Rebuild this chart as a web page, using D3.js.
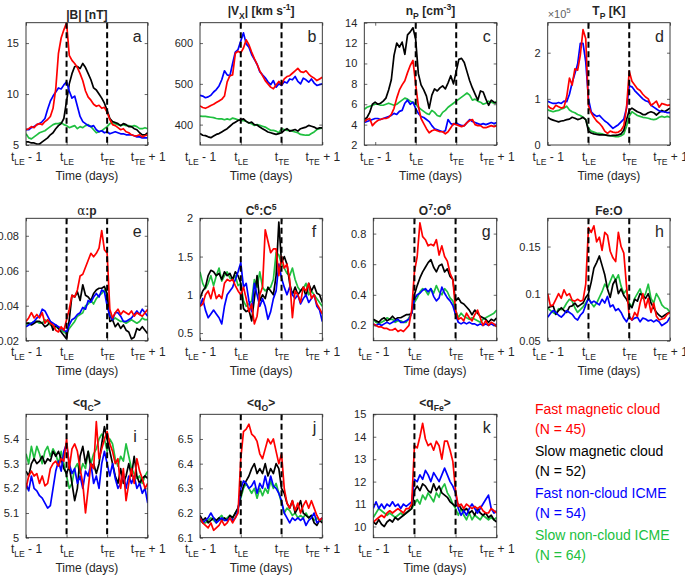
<!DOCTYPE html>
<html>
<head>
<meta charset="utf-8">
<script src="https://cdn.jsdelivr.net/npm/d3@7"></script>
<style>
  body { margin: 0; background: #fff; }
  text { font-family: "Liberation Sans", Arial, Helvetica, sans-serif; fill: #262626; }
</style>
</head>
<body>
<div id="chart"></div>
<script>
// series (fmc = fast magnetic cloud, smc = slow magnetic cloud, fnc = fast non-cloud, snc = slow non-cloud)
var seriesNames = ["Fast magnetic cloud", "Slow magnetic cloud", "Fast non-cloud ICME", "Slow non-cloud ICME"];
var seriesN = [45, 52, 54, 64];
var seriesColors = ["#ff0000", "#000000", "#0000ff", "#20c040"];
var drawOrder = [3, 1, 2, 0];

// x axis: superposed epoch, tLE - 1 .. tTE + 1
var epochs = [1, 2];
var xTickVals = [0, 1, 2, 3];
var xTickSub = ["LE", "LE", "TE", "TE"];
var xTickSuffix = [" - 1", "", "", " + 1"];

// a  |B| [nT]
var B_fmc = [6.5,6.6,6.8,6.7,7.0,7.1,7.0,7.3,7.5,7.8,8.6,10.5,14.0,15.5,16.3,17.0,13.8,13.3,13.0,12.6,12.0,11.3,10.3,9.7,9.4,9.0,8.8,8.9,8.6,8.7,8.2,7.5,7.0,6.9,6.7,6.5,6.6,6.3,6.2,6.0,5.9,5.9,6.0,5.8,5.9,6.0];
var B_smc = [5.3,5.3,5.2,5.2,5.1,5.1,5.3,5.5,5.7,6.0,6.2,6.6,6.9,7.1,7.6,9.3,11.0,12.0,12.7,12.7,12.5,13.0,12.6,12.0,11.4,10.6,10.4,10.0,9.6,9.1,8.4,7.6,7.3,7.2,7.1,6.9,7.1,7.0,6.8,6.8,6.6,6.5,6.2,6.0,6.0,6.2];
var B_fnc = [6.5,6.5,6.7,6.8,7.0,7.1,7.3,7.6,8.5,9.3,9.8,10.2,10.6,10.5,10.9,11.2,10.3,9.6,9.8,8.8,7.8,7.3,7.1,6.9,6.8,6.9,6.5,6.3,6.4,6.2,6.3,6.1,6.2,6.3,6.2,6.1,6.1,6.0,6.0,6.0,5.9,5.8,5.8,5.7,5.7,5.7];
var B_snc = [6.1,5.7,5.6,5.8,6.0,6.2,6.3,6.4,6.6,6.8,7.0,7.1,7.1,7.2,7.0,6.9,6.7,6.8,6.9,6.6,6.8,6.7,6.9,7.0,6.8,6.5,6.2,6.3,6.4,6.6,6.8,7.1,7.2,7.1,7.0,6.9,7.0,6.9,6.9,6.8,6.9,6.8,6.6,6.6,6.7,6.6];

// b  |Vx| [km/s]
var V_fmc = [446,442,440,443,447,450,454,458,462,470,505,520,522,575,580,576,588,608,596,578,562,548,532,520,508,500,492,488,497,506,498,512,518,520,526,532,538,530,528,532,524,518,514,508,512,516];
var V_smc = [378,374,373,370,368,372,376,378,382,386,390,396,402,406,410,412,414,408,404,406,400,399,394,390,386,382,380,378,376,378,380,386,390,384,386,388,384,390,392,394,398,396,394,390,392,392];
var V_fnc = [472,470,466,468,472,480,486,495,510,532,522,520,550,578,584,605,625,598,590,572,560,548,530,522,515,505,498,508,492,500,496,505,502,512,510,518,506,500,514,510,504,512,502,496,498,500];
var V_snc = [421,420,420,419,418,417,415,414,414,412,414,412,416,414,412,410,410,408,404,402,398,400,398,396,394,390,386,386,384,380,390,388,386,386,384,382,380,376,375,374,374,378,382,388,390,392];

// c  nP [cm-3] (starts a little before tLE - 1)
var Np_fmc = [4.3,4.5,4.6,3.9,4.2,4.4,4.5,4.6,4.6,4.7,5.0,5.6,6.6,7.4,7.9,8.3,9.1,9.8,10.3,8.0,5.8,4.6,4.1,3.6,3.2,3.4,3.5,3.4,3.3,3.3,3.1,3.3,3.7,4.1,4.0,3.9,3.8,3.9,4.2,4.4,4.5,4.0,3.9,3.9,3.7,3.7,3.8,3.9,3.8,3.9];
var Np_smc = [4.5,4.7,5.2,6.0,6.2,6.0,6.1,6.3,6.6,7.4,8.4,10.8,12.0,11.6,12.1,10.9,12.8,13.1,13.5,12.4,9.0,7.9,7.4,6.8,5.6,6.9,7.5,7.3,7.6,7.8,7.5,8.1,8.8,8.0,9.2,10.4,10.5,10.1,9.2,8.3,7.6,7.0,6.4,7.3,7.2,6.5,5.9,6.4,6.2,6.1];
var Np_fnc = [4.2,4.3,4.4,4.5,4.6,4.6,4.5,4.6,4.7,4.8,4.9,5.1,5.0,5.3,5.4,6.1,6.4,6.0,6.2,5.6,5.1,4.8,4.7,4.5,4.3,3.9,3.6,3.5,3.4,3.3,3.4,4.5,4.1,4.0,4.2,4.0,3.9,3.9,4.2,4.5,4.3,4.2,4.1,4.0,4.1,4.0,4.1,4.2,4.1,4.2];
var Np_snc = [5.5,5.7,5.8,5.9,6.0,6.0,5.9,5.9,6.0,6.1,6.0,5.9,6.0,6.2,6.4,6.6,6.5,6.3,6.2,6.0,5.7,5.5,5.3,5.1,5.0,5.4,5.2,4.9,4.8,5.2,5.4,5.7,5.9,6.1,6.3,6.5,6.7,6.9,7.1,6.9,6.4,6.5,6.3,6.2,6.0,6.1,6.3,6.2,6.1,6.3];

// d  TP [10^5 K]
var Tp_fmc = [0.85,0.80,0.78,0.86,0.83,0.80,0.82,1.05,1.45,1.30,1.65,1.62,1.95,2.50,2.30,0.85,0.70,0.60,0.52,0.47,0.40,0.30,0.25,0.30,0.28,0.27,0.28,0.32,0.42,0.80,1.60,1.38,1.30,1.22,1.18,1.10,1.04,1.00,0.86,0.90,0.95,0.82,0.90,0.88,0.86,0.87];
var Tp_smc = [0.60,0.56,0.54,0.52,0.50,0.52,0.53,0.55,0.56,0.60,0.58,0.55,0.57,0.60,0.55,0.30,0.26,0.24,0.23,0.22,0.22,0.22,0.21,0.20,0.21,0.21,0.22,0.24,0.32,0.55,0.75,0.80,0.76,0.72,0.70,0.66,0.66,0.70,0.72,0.70,0.65,0.70,0.75,0.72,0.76,0.80];
var Tp_fnc = [0.95,0.92,0.90,0.90,0.92,0.90,0.95,0.94,1.10,1.35,1.55,1.75,2.20,2.20,1.80,1.00,0.72,0.66,0.62,0.64,0.58,0.52,0.48,0.42,0.36,0.40,0.44,0.50,0.56,0.80,1.28,1.26,1.18,1.12,1.06,1.00,0.96,0.94,0.86,0.82,0.78,0.74,0.72,0.72,0.70,0.70];
var Tp_snc = [0.76,0.74,0.72,0.74,0.75,0.78,0.80,0.84,0.76,0.72,0.70,0.66,0.64,0.60,0.55,0.36,0.30,0.28,0.26,0.25,0.24,0.22,0.21,0.20,0.19,0.18,0.18,0.20,0.24,0.40,0.62,0.72,0.68,0.64,0.62,0.60,0.59,0.58,0.56,0.55,0.56,0.60,0.62,0.60,0.62,0.60];

// e  alpha:p
var Ap_fmc = [0.031,0.033,0.036,0.033,0.035,0.033,0.036,0.030,0.032,0.030,0.029,0.026,0.025,0.028,0.026,0.032,0.038,0.046,0.045,0.049,0.057,0.058,0.062,0.066,0.070,0.068,0.070,0.073,0.083,0.072,0.070,0.038,0.033,0.036,0.038,0.035,0.037,0.036,0.035,0.037,0.034,0.036,0.035,0.034,0.036,0.038];
var Ap_smc = [0.030,0.030,0.029,0.030,0.031,0.031,0.030,0.028,0.029,0.031,0.026,0.029,0.027,0.025,0.023,0.021,0.032,0.046,0.045,0.048,0.043,0.052,0.046,0.045,0.043,0.047,0.049,0.050,0.050,0.051,0.047,0.031,0.032,0.028,0.030,0.027,0.029,0.026,0.025,0.021,0.022,0.027,0.026,0.028,0.026,0.024];
var Ap_fnc = [0.028,0.029,0.030,0.031,0.033,0.034,0.038,0.037,0.034,0.031,0.030,0.029,0.028,0.027,0.026,0.025,0.029,0.032,0.033,0.035,0.036,0.039,0.038,0.043,0.042,0.045,0.047,0.045,0.049,0.048,0.040,0.034,0.032,0.036,0.036,0.034,0.031,0.031,0.032,0.033,0.035,0.037,0.035,0.038,0.036,0.034];
var Ap_snc = [0.029,0.030,0.030,0.031,0.031,0.030,0.030,0.032,0.031,0.029,0.028,0.028,0.027,0.026,0.025,0.024,0.027,0.029,0.031,0.034,0.035,0.036,0.040,0.041,0.043,0.041,0.044,0.046,0.047,0.049,0.046,0.035,0.032,0.033,0.032,0.031,0.031,0.030,0.031,0.032,0.031,0.030,0.031,0.033,0.032,0.032];

// f  C6:C5
var C65_fmc = [0.85,0.88,1.00,1.05,0.95,1.10,0.95,1.00,0.95,1.15,1.20,1.18,1.20,1.12,1.05,1.00,1.10,0.95,0.78,0.88,0.62,0.72,1.00,1.10,1.85,1.70,1.55,1.60,1.60,1.25,1.50,1.35,1.40,1.20,0.70,1.05,1.00,0.90,1.10,1.05,1.15,0.95,1.00,0.88,0.82,0.75];
var C65_smc = [0.95,1.05,1.10,1.25,1.32,1.30,1.25,1.28,1.20,1.30,1.25,1.28,1.20,1.30,1.25,1.15,0.82,0.78,0.80,0.66,0.95,1.25,0.92,1.00,0.95,1.10,1.05,1.00,1.25,1.95,1.42,1.50,1.40,1.15,1.00,1.10,1.00,1.05,1.10,0.98,1.15,1.05,1.12,1.02,1.00,0.90];
var C65_fnc = [0.85,0.95,0.80,0.70,0.75,0.80,0.75,0.70,0.62,0.85,1.00,1.05,1.10,1.20,1.30,1.42,1.10,1.15,0.92,0.78,1.15,1.00,0.85,0.95,0.85,0.68,0.78,0.95,1.05,1.40,1.22,1.10,1.00,1.10,1.00,0.95,1.00,0.88,0.95,1.00,0.90,0.95,1.00,0.85,0.80,0.65];
var C65_snc = [1.30,1.15,1.08,1.15,1.25,1.12,1.25,1.35,1.18,1.25,1.30,1.22,1.20,1.25,1.12,1.15,0.92,0.85,0.88,0.92,1.20,1.10,1.30,1.10,1.05,1.08,1.10,1.20,1.55,1.52,1.40,1.35,1.28,1.25,1.35,1.20,1.10,1.05,1.08,1.15,1.00,1.05,1.00,0.95,0.90,0.85];

// g  O7:O6
var O76_fmc = [0.21,0.20,0.19,0.19,0.18,0.18,0.17,0.17,0.18,0.16,0.17,0.16,0.18,0.20,0.30,0.55,0.65,0.87,0.78,0.76,0.72,0.73,0.72,0.76,0.66,0.72,0.65,0.62,0.54,0.50,0.30,0.24,0.25,0.23,0.28,0.25,0.23,0.27,0.30,0.25,0.20,0.23,0.20,0.22,0.21,0.19];
var O76_smc = [0.24,0.23,0.22,0.24,0.25,0.23,0.24,0.26,0.24,0.25,0.25,0.26,0.27,0.27,0.28,0.40,0.46,0.51,0.55,0.58,0.61,0.63,0.58,0.55,0.59,0.60,0.55,0.57,0.52,0.50,0.36,0.38,0.35,0.34,0.32,0.30,0.27,0.30,0.28,0.26,0.25,0.24,0.22,0.24,0.23,0.25];
var O76_fnc = [0.21,0.20,0.21,0.20,0.21,0.22,0.21,0.22,0.23,0.24,0.22,0.22,0.23,0.24,0.28,0.37,0.40,0.41,0.43,0.44,0.42,0.44,0.39,0.36,0.38,0.45,0.41,0.38,0.36,0.33,0.27,0.22,0.21,0.22,0.21,0.22,0.21,0.21,0.20,0.21,0.20,0.21,0.20,0.21,0.20,0.21];
var O76_snc = [0.24,0.22,0.21,0.22,0.23,0.25,0.24,0.24,0.22,0.23,0.23,0.22,0.22,0.25,0.28,0.35,0.38,0.42,0.44,0.43,0.40,0.44,0.41,0.46,0.42,0.40,0.44,0.42,0.38,0.36,0.30,0.25,0.28,0.26,0.25,0.24,0.25,0.24,0.23,0.22,0.24,0.25,0.26,0.27,0.28,0.30];

// h  Fe:O
var FeO_fmc = [0.100,0.087,0.088,0.094,0.100,0.095,0.104,0.098,0.100,0.093,0.092,0.094,0.092,0.093,0.110,0.170,0.165,0.172,0.155,0.160,0.146,0.165,0.162,0.145,0.138,0.134,0.165,0.150,0.143,0.108,0.075,0.072,0.080,0.076,0.090,0.100,0.085,0.095,0.080,0.090,0.076,0.072,0.073,0.074,0.078,0.080];
var FeO_smc = [0.085,0.086,0.087,0.078,0.082,0.085,0.082,0.080,0.086,0.087,0.090,0.086,0.088,0.090,0.096,0.100,0.112,0.127,0.133,0.140,0.130,0.120,0.105,0.096,0.110,0.115,0.100,0.105,0.098,0.094,0.088,0.085,0.094,0.092,0.100,0.098,0.095,0.100,0.090,0.085,0.080,0.077,0.075,0.077,0.079,0.080];
var FeO_fnc = [0.075,0.079,0.082,0.080,0.077,0.075,0.078,0.082,0.080,0.078,0.074,0.072,0.077,0.080,0.088,0.095,0.090,0.092,0.090,0.088,0.094,0.090,0.097,0.086,0.088,0.082,0.084,0.080,0.074,0.070,0.076,0.072,0.074,0.075,0.070,0.074,0.073,0.071,0.072,0.070,0.072,0.070,0.066,0.068,0.070,0.075];
var FeO_snc = [0.085,0.082,0.080,0.078,0.084,0.083,0.085,0.090,0.094,0.092,0.085,0.080,0.083,0.086,0.090,0.095,0.090,0.086,0.090,0.096,0.102,0.110,0.106,0.113,0.120,0.114,0.120,0.108,0.100,0.104,0.090,0.086,0.095,0.100,0.105,0.095,0.100,0.110,0.095,0.090,0.100,0.095,0.088,0.085,0.084,0.080];

// i  <qC>
var qC_fmc = [5.20,5.25,5.27,5.25,5.26,5.22,5.25,5.21,5.22,5.28,5.30,5.31,5.29,5.32,5.31,5.40,5.28,5.36,5.38,5.35,5.28,5.22,5.10,5.20,5.30,5.28,5.47,5.32,5.36,5.40,5.43,5.38,5.35,5.30,5.32,5.20,5.28,5.15,5.22,5.28,5.22,5.32,5.27,5.24,5.20,5.22];
var qC_smc = [5.27,5.25,5.30,5.32,5.30,5.31,5.33,5.30,5.32,5.31,5.35,5.33,5.35,5.32,5.28,5.26,5.29,5.22,5.15,5.20,5.33,5.37,5.30,5.35,5.28,5.30,5.26,5.30,5.38,5.45,5.40,5.35,5.30,5.25,5.22,5.28,5.22,5.25,5.30,5.25,5.33,5.25,5.22,5.24,5.25,5.24];
var qC_fnc = [5.22,5.19,5.25,5.20,5.19,5.17,5.16,5.14,5.12,5.13,5.20,5.27,5.31,5.27,5.35,5.38,5.30,5.26,5.28,5.22,5.25,5.20,5.27,5.25,5.30,5.22,5.25,5.20,5.30,5.35,5.30,5.25,5.30,5.24,5.20,5.22,5.26,5.20,5.25,5.22,5.25,5.20,5.22,5.18,5.20,5.14];
var qC_snc = [5.34,5.30,5.37,5.32,5.37,5.34,5.30,5.35,5.37,5.33,5.36,5.34,5.30,5.35,5.30,5.25,5.20,5.22,5.28,5.30,5.26,5.30,5.28,5.35,5.30,5.34,5.36,5.40,5.42,5.40,5.35,5.40,5.38,5.32,5.29,5.33,5.31,5.38,5.33,5.28,5.26,5.24,5.25,5.22,5.25,5.27];

// j  <qO>
var qO_fmc = [6.18,6.16,6.15,6.14,6.16,6.13,6.14,6.15,6.17,6.15,6.16,6.18,6.16,6.18,6.20,6.42,6.53,6.54,6.56,6.52,6.51,6.49,6.44,6.42,6.46,6.50,6.48,6.50,6.45,6.40,6.44,6.30,6.24,6.22,6.25,6.21,6.24,6.20,6.23,6.25,6.22,6.25,6.22,6.19,6.17,6.18];
var qO_smc = [6.19,6.17,6.18,6.16,6.17,6.18,6.17,6.18,6.17,6.18,6.17,6.19,6.18,6.20,6.22,6.27,6.31,6.33,6.35,6.38,6.40,6.36,6.38,6.36,6.40,6.35,6.38,6.36,6.40,6.38,6.30,6.28,6.24,6.22,6.25,6.20,6.22,6.25,6.20,6.19,6.18,6.19,6.16,6.15,6.17,6.16];
var qO_fnc = [6.18,6.16,6.17,6.18,6.20,6.18,6.16,6.17,6.18,6.17,6.17,6.18,6.17,6.18,6.21,6.30,6.33,6.32,6.30,6.31,6.33,6.28,6.32,6.30,6.35,6.30,6.35,6.31,6.30,6.28,6.25,6.20,6.18,6.16,6.18,6.17,6.18,6.17,6.18,6.15,6.17,6.18,6.20,6.16,6.17,6.18];
var qO_snc = [6.17,6.16,6.16,6.17,6.18,6.17,6.16,6.18,6.19,6.17,6.18,6.19,6.18,6.20,6.22,6.26,6.30,6.32,6.30,6.28,6.30,6.26,6.30,6.27,6.30,6.28,6.33,6.30,6.32,6.28,6.24,6.20,6.22,6.21,6.19,6.20,6.18,6.19,6.18,6.20,6.18,6.19,6.17,6.18,6.17,6.17];

// k  <qFe>
var qFe_fmc = [10.2,10.3,10.4,10.5,10.4,10.6,10.7,10.6,10.7,10.8,10.7,10.6,10.8,10.8,11.0,13.6,13.5,14.0,14.6,13.9,13.6,13.7,13.4,13.8,13.6,13.0,13.8,13.8,13.4,12.9,11.6,10.9,11.0,10.8,11.0,10.9,10.8,10.9,10.8,10.9,10.7,10.6,10.6,10.8,10.7,10.6];
var qFe_smc = [10.2,10.1,10.3,10.1,10.0,10.2,10.3,10.2,10.4,10.3,10.4,10.5,10.6,10.7,10.8,11.6,11.8,11.6,11.9,11.8,11.6,11.5,11.9,11.6,11.8,11.5,11.4,11.3,11.1,11.0,10.9,11.0,10.8,10.7,10.8,10.6,10.7,10.5,10.8,10.6,10.5,10.6,10.4,10.5,10.3,10.2];
var qFe_fnc = [10.8,11.1,10.8,11.0,10.8,11.0,10.9,11.1,10.9,11.0,10.8,11.0,10.9,11.0,11.1,12.1,12.0,12.3,12.1,12.5,12.3,12.0,12.4,12.2,12.0,12.3,12.6,12.3,12.0,11.8,11.5,10.8,10.5,10.7,10.5,10.8,11.0,10.8,10.6,10.8,11.0,11.2,11.4,10.8,10.6,10.7];
var qFe_snc = [10.4,10.6,10.8,10.7,10.6,10.5,10.6,10.5,10.4,10.5,10.6,10.5,10.6,10.7,10.8,11.0,11.2,11.0,11.4,11.2,11.5,11.3,11.1,11.5,11.3,11.7,11.9,11.5,11.3,11.0,10.8,10.5,10.8,10.5,10.3,10.6,10.3,10.5,10.4,10.3,10.5,10.4,10.3,10.4,10.3,10.4];

// title pieces: [text, kind] kind = "" | "sub" | "sup" | "greek"
var panels = [
  {letter:"a", box:[26,22.7,147.7,145], xmin:0, yDom:[5,17], yTicks:[5,10,15],
   title:[["|B| [nT]",""]], series:[B_fmc,B_smc,B_fnc,B_snc]},
  {letter:"b", box:[200,22.7,322.3,145], xmin:0, yDom:[350,650], yTicks:[400,500,600],
   title:[["|V",""],["X","sub"],["| [km s",""],["-1","sup"],["]",""]], series:[V_fmc,V_smc,V_fnc,V_snc]},
  {letter:"c", box:[364.3,22.7,496.7,145], xmin:-0.27, yDom:[2,14], yTicks:[2,4,6,8,10,12,14],
   title:[["n",""],["P","sub"],[" [cm",""],["-3","sup"],["]",""]], series:[Np_fmc,Np_smc,Np_fnc,Np_snc]},
  {letter:"d", box:[547.7,22.7,670,145], xmin:0, yDom:[0,2.65], yTicks:[0,1,2], exp:"5",
   title:[["T",""],["P","sub"],[" [K]",""]], series:[Tp_fmc,Tp_smc,Tp_fnc,Tp_snc]},
  {letter:"e", box:[26,218.3,147.7,340.7], xmin:0, yDom:[0.02,0.09], yTicks:[0.02,0.04,0.06,0.08],
   title:[["\u03b1","greek"],[":p",""]], series:[Ap_fmc,Ap_smc,Ap_fnc,Ap_snc]},
  {letter:"f", box:[200,218.3,322.3,340.7], xmin:0, yDom:[0.4,2], yTicks:[0.5,1,1.5,2],
   title:[["C",""],["6","sup"],[":C",""],["5","sup"]], series:[C65_fmc,C65_smc,C65_fnc,C65_snc]},
  {letter:"g", box:[373.3,218.3,496.7,340.7], xmin:0, yDom:[0.1,0.9], yTicks:[0.2,0.4,0.6,0.8],
   title:[["O",""],["7","sup"],[":O",""],["6","sup"]], series:[O76_fmc,O76_smc,O76_fnc,O76_snc]},
  {letter:"h", box:[547.7,218.3,670,340.7], xmin:0, yDom:[0.05,0.18], yTicks:[0.05,0.1,0.15],
   title:[["Fe:O",""]], series:[FeO_fmc,FeO_smc,FeO_fnc,FeO_snc]},
  {letter:"i", box:[26,414.3,147.7,537.7], xmin:0, yDom:[5,5.5], yTicks:[5,5.1,5.2,5.3,5.4],
   title:[["<q",""],["C","sub"],[">",""]], series:[qC_fmc,qC_smc,qC_fnc,qC_snc], ldx:11, ldy:28},
  {letter:"j", box:[200,414.3,322.3,537.7], xmin:0, yDom:[6.1,6.6], yTicks:[6.1,6.2,6.3,6.4,6.5],
   title:[["<q",""],["O","sub"],[">",""]], series:[qO_fmc,qO_smc,qO_fnc,qO_snc]},
  {letter:"k", box:[373.3,414.3,496.7,537.7], xmin:0, yDom:[9.5,15], yTicks:[10,11,12,13,14,15],
   title:[["<q",""],["Fe","sub"],[">",""]], series:[qFe_fmc,qFe_smc,qFe_fnc,qFe_snc]}
];

var width = 685;
var height = 577;
var axisColor = "#262626";

var svg = d3.select("#chart")
  .append("svg")
  .attr("width", width)
  .attr("height", height);

// writes text pieces with sub/superscripts as tspans
function richText(sel, parts, size) {
  var shift = 0;
  parts.forEach(function(p) {
    var kind = p[1];
    var target = kind === "sub" ? size * 0.33 : kind === "sup" ? -size * 0.4 : 0;
    var ts = sel.append("tspan")
      .attr("dy", (target - shift).toFixed(2))
      .style("font-size", (kind === "sub" || kind === "sup" ? size * 0.72 : size) + "px")
      .text(p[0]);
    if (kind === "greek") ts.style("font-weight", "normal").style("font-family", "'DejaVu Serif', serif");
    shift = target;
  });
}

panels.forEach(function(p) {
  var x0 = p.box[0], y0 = p.box[1], x1 = p.box[2], y1 = p.box[3];
  var x = d3.scaleLinear().domain([p.xmin, 3]).range([x0, x1]);
  var y = d3.scaleLinear().domain(p.yDom).range([y1, y0]);
  var g = svg.append("g");

  g.append("clipPath").attr("id", "clip-" + p.letter)
    .append("rect").attr("x", x0).attr("y", y0).attr("width", x1 - x0).attr("height", y1 - y0);

  // data lines
  drawOrder.forEach(function(s) {
    var vals = p.series[s];
    var n = vals.length;
    var line = d3.line()
      .x(function(d, i) { return x(p.xmin + i * (3 - p.xmin) / (n - 1)); })
      .y(function(d) { return y(d); });
    g.append("path")
      .datum(vals)
      .attr("clip-path", "url(#clip-" + p.letter + ")")
      .attr("d", line)
      .attr("fill", "none")
      .attr("stroke", seriesColors[s])
      .attr("stroke-width", 1.7)
      .attr("stroke-linejoin", "round");
  });

  // leading / trailing edge
  g.selectAll(".epoch")
    .data(epochs)
    .join("line")
      .attr("x1", function(d) { return x(d); })
      .attr("x2", function(d) { return x(d); })
      .attr("y1", y0)
      .attr("y2", y1)
      .attr("stroke", "#000")
      .attr("stroke-width", 2)
      .attr("stroke-dasharray", "6,3.5");

  // axes (ticks inside)
  var yAxis = g.append("g")
    .attr("transform", "translate(" + x0 + ",0)")
    .call(d3.axisLeft(y).tickValues(p.yTicks).tickSize(-3).tickPadding(7).tickFormat(String));
  g.append("g")
    .attr("transform", "translate(" + x1 + ",0)")
    .call(d3.axisRight(y).tickValues(p.yTicks).tickSize(-3).tickFormat(""));
  var xAxis = g.append("g")
    .attr("transform", "translate(0," + y1 + ")")
    .call(d3.axisBottom(x).tickValues(xTickVals).tickSize(-3).tickFormat(""));
  g.append("g")
    .attr("transform", "translate(0," + y0 + ")")
    .call(d3.axisTop(x).tickValues(xTickVals).tickSize(-3).tickFormat(""));

  g.selectAll(".domain").remove();
  g.selectAll(".tick line").attr("stroke", axisColor).attr("stroke-width", 0.7);
  yAxis.selectAll("text")
    .attr("fill", axisColor)
    .style("font-size", "11px")
    .style("font-family", "'Liberation Sans', Arial, sans-serif");

  xAxis.selectAll(".tick").each(function(d, i) {
    var t = d3.select(this).append("text")
      .attr("y", 15.7)
      .attr("text-anchor", "middle")
      .attr("fill", axisColor)
      .style("font-size", "12px");
    richText(t, [["t", ""], [xTickSub[i], "sub"], [xTickSuffix[i], ""]], 12);
  });

  // box
  g.append("rect")
    .attr("x", x0).attr("y", y0)
    .attr("width", x1 - x0).attr("height", y1 - y0)
    .attr("fill", "none")
    .attr("stroke", axisColor)
    .attr("stroke-width", 0.9);

  // title
  var hasSub = p.title.some(function(t) { return t[1] === "sub"; });
  var title = g.append("text")
    .attr("x", (x0 + x1) / 2)
    .attr("y", y0 - (hasSub ? 7.5 : 3.5))
    .attr("text-anchor", "middle")
    .style("font-weight", "bold")
    .style("font-size", "12px");
  richText(title, p.title, 12);

  // panel letter
  g.append("text")
    .attr("x", x1 - (p.ldx || 6))
    .attr("y", y0 + (p.ldy || 19))
    .attr("text-anchor", "end")
    .style("font-size", "16px")
    .text(p.letter);

  // x label
  g.append("text")
    .attr("x", (x0 + x1) / 2)
    .attr("y", y1 + 34.5)
    .attr("text-anchor", "middle")
    .style("font-size", "12px")
    .text("Time (days)");

  // exponent label
  if (p.exp) {
    var ex = g.append("text")
      .attr("x", x0)
      .attr("y", y0 - 5)
      .attr("fill", "#606060")
      .style("font-size", "11px");
    richText(ex, [["\u00d710", ""], [p.exp, "sup"]], 11);
    ex.selectAll("tspan").attr("fill", "#606060");
  }
});

// legend
var legend = svg.append("g").attr("transform", "translate(535,414.3)");
seriesNames.forEach(function(name, i) {
  var t = legend.append("text")
    .attr("y", i * 42)
    .attr("fill", seriesColors[i])
    .style("font-size", "14px");
  t.append("tspan").attr("x", 0).attr("fill", seriesColors[i]).text(name);
  t.append("tspan").attr("x", 0).attr("dy", 19.5).attr("fill", seriesColors[i]).text("(N = " + seriesN[i] + ")");
});
</script>
</body>
</html>
